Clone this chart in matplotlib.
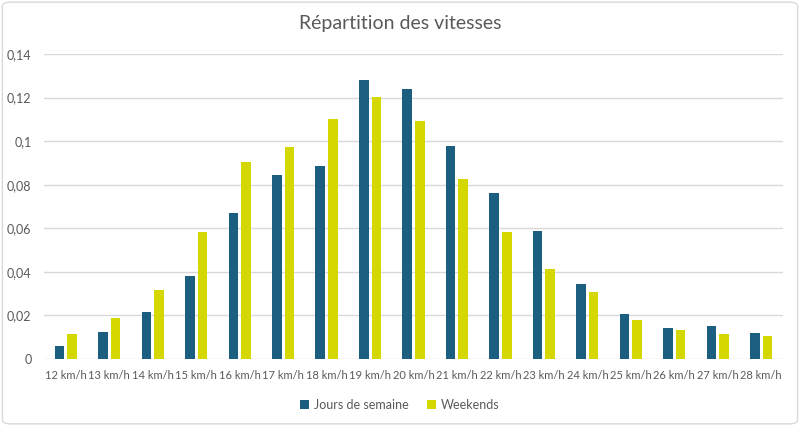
import matplotlib.pyplot as plt
import numpy as np
from matplotlib.patches import FancyBboxPatch

plt.rcParams['font.family'] = ['Lato', 'DejaVu Sans']

categories = ['12 km/h', '13 km/h', '14 km/h', '15 km/h', '16 km/h', '17 km/h', '18 km/h',
              '19 km/h', '20 km/h', '21 km/h', '22 km/h', '23 km/h', '24 km/h', '25 km/h',
              '26 km/h', '27 km/h', '28 km/h']
semaine = [0.006, 0.0122, 0.0218, 0.038, 0.067, 0.0846, 0.0884, 0.128, 0.124,
           0.0977, 0.0763, 0.0588, 0.0342, 0.0208, 0.0144, 0.0151, 0.0119]
weekends = [0.0113, 0.0188, 0.0318, 0.0582, 0.0905, 0.0973, 0.110, 0.1202, 0.1093,
            0.0827, 0.0585, 0.0414, 0.0307, 0.0177, 0.0131, 0.0113, 0.0104]
yticks = [0, 0.02, 0.04, 0.06, 0.08, 0.1, 0.12, 0.14]
ylabels = ['0', '0,02', '0,04', '0,06', '0,08', '0,1', '0,12', '0,14']

blue = '#1B5E80'
yellow = '#D4D800'
grey_txt = '#595959'

fig = plt.figure(figsize=(8, 4.26), dpi=100)
ax = fig.add_axes([44 / 800, 1 - 359 / 426, (783 - 44) / 800, (359 - 54) / 426])

x = np.arange(len(categories))
w = 0.22
ax.bar(x - 0.145, semaine, w, color=blue, label='Jours de semaine', zorder=3)
ax.bar(x + 0.145, weekends, w, color=yellow, label='Weekends', zorder=3)

ax.set_xlim(-0.5, len(categories) - 0.5)
ax.set_ylim(0, 0.14)
ax.set_yticks(yticks)
ax.set_yticklabels(ylabels)
ax.set_xticks(x)
ax.set_xticklabels(categories)
ax.tick_params(axis='both', length=0, labelsize=9, colors=grey_txt)
ax.tick_params(axis='x', pad=8, labelsize=8)
ax.tick_params(axis='y', pad=9)
ax.grid(axis='y', color='#D9D9D9', linewidth=1, zorder=0)
for s in ax.spines.values():
    s.set_visible(False)

fig.suptitle('Répartition des vitesses', y=0.965, fontsize=14, color=grey_txt)

fig.legend(loc='center', bbox_to_anchor=(0.5, 1 - 405 / 426), ncol=2,
           frameon=False, fontsize=9, labelcolor=grey_txt, handlelength=0.7,
           handleheight=0.7, handletextpad=0.4, columnspacing=1.5)

border = FancyBboxPatch((0.003, 0.005), 0.994, 0.99, boxstyle='round,pad=0,rounding_size=0.01',
                        transform=fig.transFigure, fill=False, edgecolor='#D9D9D9', linewidth=1)
fig.patches.append(border)

fig.savefig('out.png', dpi=100)
